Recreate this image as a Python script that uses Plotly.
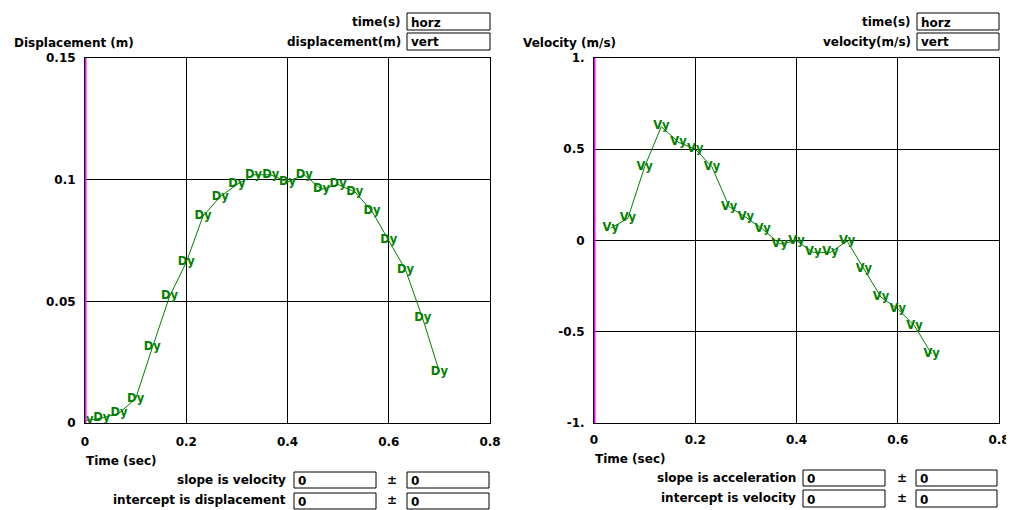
import plotly.graph_objects as go

# ---- data ----
t_disp = [0, 0.033, 0.067, 0.1, 0.133, 0.167, 0.2, 0.233, 0.267, 0.3, 0.333,
          0.367, 0.4, 0.433, 0.467, 0.5, 0.533, 0.567, 0.6, 0.633, 0.667, 0.7]
disp = [0.001, 0.002, 0.004, 0.010, 0.031, 0.052, 0.066, 0.085, 0.093, 0.098, 0.102,
        0.102, 0.099, 0.102, 0.096, 0.098, 0.095, 0.087, 0.075, 0.063, 0.043, 0.021]

t_vel = [0.033, 0.067, 0.1, 0.133, 0.167, 0.2, 0.233, 0.267, 0.3, 0.333,
         0.367, 0.4, 0.433, 0.467, 0.5, 0.533, 0.567, 0.6, 0.633, 0.667]
vel = [0.067, 0.122, 0.404, 0.624, 0.538, 0.501, 0.404, 0.185, 0.127, 0.063,
       -0.019, -0.001, -0.065, -0.065, -0.003, -0.156, -0.311, -0.375, -0.467, -0.622]

x_ticks = [0, 0.2, 0.4, 0.6, 0.8]
x_ticktext = ["0", "0.2", "0.4", "0.6", "0.8"]
disp_ticks = [0, 0.05, 0.1, 0.15]
disp_ticktext = ["0", "0.05", "0.1", "0.15"]
vel_ticks = [-1, -0.5, 0, 0.5, 1]
vel_ticktext = ["-1.", "-0.5", "0", "0.5", "1."]

W, H = 1014, 510
OFF = 8  # page body margin
FONT = "DejaVu Sans"
GREEN = "#008000"


def fx(p):
    return (p - OFF) / W


def fy(p):
    return 1 - (p - OFF) / H


fig = go.Figure()

fig.add_trace(go.Scatter(
    x=t_disp, y=disp, mode="lines+text", text=["Dy"] * len(disp),
    textposition="middle center",
    textfont=dict(family=FONT, size=11.5, color=GREEN, weight="bold"),
    line=dict(color=GREEN, width=1), xaxis="x", yaxis="y", showlegend=False,
    hoverinfo="skip"))

fig.add_trace(go.Scatter(
    x=t_vel, y=vel, mode="lines+text", text=["Vy"] * len(vel),
    textposition="middle center",
    textfont=dict(family=FONT, size=11.5, color=GREEN, weight="bold"),
    line=dict(color=GREEN, width=1), xaxis="x2", yaxis="y2", showlegend=False,
    hoverinfo="skip"))

axis_common = dict(showgrid=True, gridcolor="black", gridwidth=1,
                   showline=True, linecolor="black", linewidth=1, mirror=True,
                   zeroline=False, ticks="", fixedrange=True, automargin=False,
                   tickfont=dict(family=FONT, size=12, color="black", weight="bold"))

fig.update_layout(
    template="none",
    width=W, height=H, margin=dict(l=0, r=0, t=0, b=0, autoexpand=False),
    paper_bgcolor="white", plot_bgcolor="white",
    xaxis=dict(domain=[fx(85), fx(490)], range=[0, 0.8], tickvals=x_ticks,
               ticktext=x_ticktext, anchor="y", ticklabelstandoff=8, **axis_common),
    yaxis=dict(domain=[fy(423), fy(58)], range=[0, 0.15], tickvals=disp_ticks,
               ticktext=disp_ticktext, anchor="x", ticklabelstandoff=6, **axis_common),
    xaxis2=dict(domain=[fx(594), fx(999)], range=[0, 0.8], tickvals=x_ticks,
                ticktext=x_ticktext, anchor="y2", ticklabelstandoff=6, **axis_common),
    yaxis2=dict(domain=[fy(423), fy(58)], range=[-1, 1], tickvals=vel_ticks,
                ticktext=vel_ticktext, anchor="x2", ticklabelstandoff=6, **axis_common),
)

# magenta cursor lines at t=0
for xr, yr in (("x", "y domain"), ("x2", "y2 domain")):
    fig.add_shape(type="line", xref=xr, yref=yr, x0=0, x1=0, y0=0, y1=1,
                  line=dict(color="magenta", width=3))

shapes = []
annotations = []


def label(text, x, y, anchor="right"):
    annotations.append(dict(text=text, x=fx(x), y=fy(y), xref="paper", yref="paper",
                            xanchor=anchor, yanchor="middle", showarrow=False,
                            font=dict(family=FONT, size=12, color="black", weight="bold")))


def box(x0, y0, x1, y1, text):
    shapes.append(dict(type="rect", xref="paper", yref="paper",
                       x0=fx(x0), x1=fx(x1), y0=fy(y1), y1=fy(y0),
                       line=dict(color="black", width=1), fillcolor="white", layer="above"))
    label(text, x0 + 2, (y0 + y1) / 2 + 1, "left")


# left panel
label("Displacement (m)", 12, 43, "left")
label("time(s)", 403, 22)
box(407, 13, 490, 30, "horz")
label("displacement(m)", 403, 42)
box(407, 33, 490, 50, "vert")
label("Time (sec)", 84, 461, "left")
label("slope is velocity", 288, 480)
box(294, 472, 376, 488, "0")
label("±", 392, 480, "center")
box(407, 472, 489, 488, "0")
label("intercept is displacement", 288, 500)
box(294, 493, 376, 509, "0")
label("±", 392, 500, "center")
box(407, 493, 489, 509, "0")

# right panel
label("Velocity (m/s)", 521, 43, "left")
label("time(s)", 913, 22)
box(917, 13, 999, 30, "horz")
label("velocity(m/s)", 913, 42)
box(917, 33, 999, 50, "vert")
label("Time (sec)", 593, 459, "left")
label("slope is acceleration", 798, 478)
box(803, 470, 885, 486, "0")
label("±", 902, 478, "center")
box(916, 470, 997, 486, "0")
label("intercept is velocity", 798, 498)
box(803, 490, 885, 507, "0")
label("±", 902, 498, "center")
box(916, 490, 997, 507, "0")

for s in shapes:
    fig.add_shape(**s)
fig.update_layout(annotations=annotations)

fig.write_html("out.html")
